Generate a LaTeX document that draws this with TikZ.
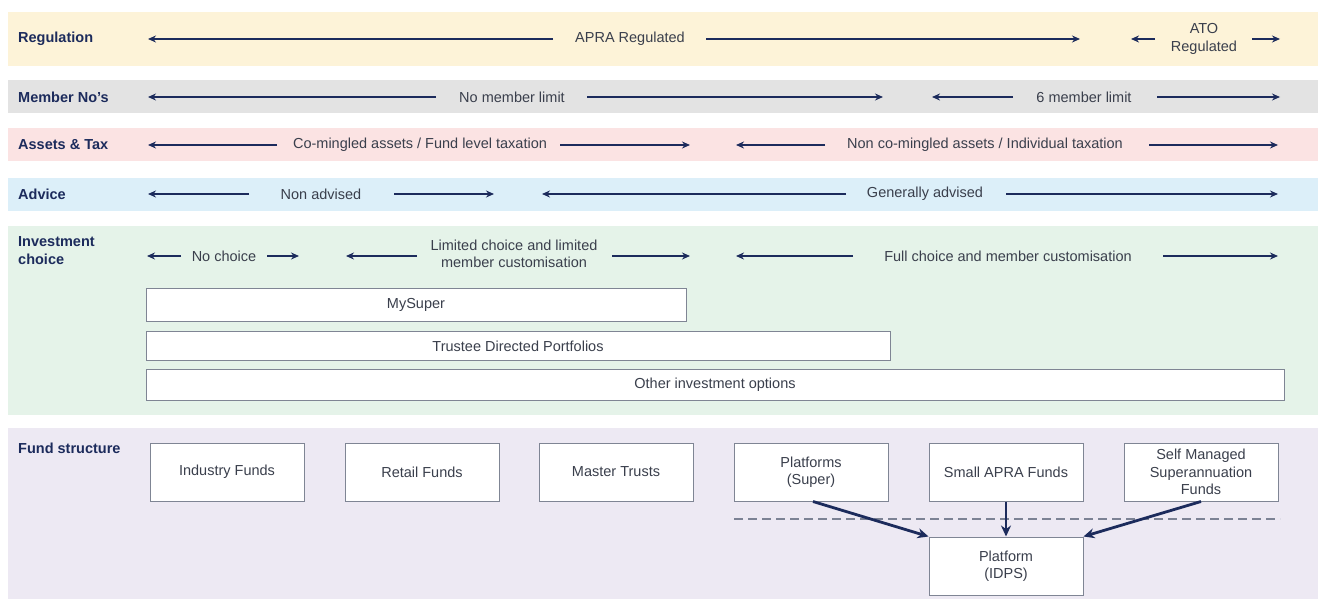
\documentclass[tikz,border=0pt]{standalone}
\usepackage{fontspec}
\setmainfont{Liberation Sans}
\usetikzlibrary{arrows.meta}
\definecolor{navy}{HTML}{1C2B5C}
\definecolor{txtc}{HTML}{3A3F4C}
\definecolor{boxc}{HTML}{7F8594}
\definecolor{regc}{HTML}{FDF3D8}
\definecolor{memc}{HTML}{E3E3E3}
\definecolor{assc}{HTML}{FBE3E3}
\definecolor{advc}{HTML}{DCEFF9}
\definecolor{invc}{HTML}{E5F3E9}
\definecolor{fundc}{HTML}{EDE9F3}
\definecolor{dashc}{HTML}{7C8294}
\begin{document}
\begin{tikzpicture}[x=1pt,y=-1pt,
  lab/.style={font=\fontsize{14.5}{18.5}\selectfont\bfseries, text=navy, anchor=west, align=left, inner sep=0pt},
  txt/.style={font=\fontsize{14.5}{17.5}\selectfont, text=txtc, align=center, inner sep=0pt},
  arr/.style={navy, line width=1.8pt, -{Stealth[length=8pt,width=7pt]}},
  farr/.style={navy, line width=2.8pt, -{Stealth[length=11pt,width=10pt]}},
  obox/.style={draw=boxc, fill=white, line width=1pt, font=\fontsize{14.5}{17.5}\selectfont, text=txtc, align=center, inner sep=0pt},
  fbox/.style={obox, minimum width=154, minimum height=58}
]
\useasboundingbox (0,0) rectangle (1324,599);
\fill[white] (0,0) rectangle (1324,599);
% bands
\fill[regc] (8,12) rectangle (1318,66);
\fill[memc] (8,80) rectangle (1318,113);
\fill[assc] (8,128) rectangle (1318,161);
\fill[advc] (8,178) rectangle (1318,211);
\fill[invc] (8,226) rectangle (1318,415);
\fill[fundc] (8,428) rectangle (1318,599);
% row labels
\node[lab] (lreg) at (18,39) {Regulation};
\node[lab] (lmem) at (18,97) {Member No's};
\node[lab] (lass) at (18,145) {Assets \& Tax};
\node[lab] (ladv) at (18,194) {Advice};
\node[lab, anchor=north west] (linv) at (18,236) {Investment\\choice};
\node[lab, anchor=north west] (lfund) at (18,443) {Fund structure};
% Regulation
\node[txt] (apra) at (630,39) {APRA Regulated};
\node[txt] (ato) at (1204,39) {ATO\\Regulated};
\coordinate (ra1) at (553,39); \coordinate (ra2) at (148,39);
\coordinate (ra3) at (706,39); \coordinate (ra4) at (1080,39);
\coordinate (ra5) at (1155,39); \coordinate (ra6) at (1131,39);
\coordinate (ra7) at (1252,39); \coordinate (ra8) at (1280,39);
\draw[arr] (ra1) -- (ra2); \draw[arr] (ra3) -- (ra4);
\draw[arr] (ra5) -- (ra6); \draw[arr] (ra7) -- (ra8);
% Member
\node[txt] (nml) at (512,97) {No member limit};
\node[txt] (sml) at (1084,97) {6 member limit};
\coordinate (ma1) at (436,97); \coordinate (ma2) at (148,97);
\coordinate (ma3) at (587,97); \coordinate (ma4) at (883,97);
\coordinate (ma5) at (1013,97); \coordinate (ma6) at (932,97);
\coordinate (ma7) at (1157,97); \coordinate (ma8) at (1280,97);
\draw[arr] (ma1) -- (ma2); \draw[arr] (ma3) -- (ma4);
\draw[arr] (ma5) -- (ma6); \draw[arr] (ma7) -- (ma8);
% Assets
\node[txt] (com) at (420,145) {Co-mingled assets / Fund level taxation};
\node[txt] (ncom) at (985,145) {Non co-mingled assets / Individual taxation};
\coordinate (aa1) at (277,145); \coordinate (aa2) at (148,145);
\coordinate (aa3) at (560,145); \coordinate (aa4) at (690,145);
\coordinate (aa5) at (825,145); \coordinate (aa6) at (736,145);
\coordinate (aa7) at (1149,145); \coordinate (aa8) at (1278,145);
\draw[arr] (aa1) -- (aa2); \draw[arr] (aa3) -- (aa4);
\draw[arr] (aa5) -- (aa6); \draw[arr] (aa7) -- (aa8);
% Advice
\node[txt] (nadv) at (321,194) {Non advised};
\node[txt] (gadv) at (925,194) {Generally advised};
\coordinate (da1) at (249,194); \coordinate (da2) at (148,194);
\coordinate (da3) at (394,194); \coordinate (da4) at (494,194);
\coordinate (da5) at (846,194); \coordinate (da6) at (542,194);
\coordinate (da7) at (1006,194); \coordinate (da8) at (1278,194);
\draw[arr] (da1) -- (da2); \draw[arr] (da3) -- (da4);
\draw[arr] (da5) -- (da6); \draw[arr] (da7) -- (da8);
% Investment choice
\node[txt] (noc) at (224,256) {No choice};
\node[txt] (lim) at (514,254) {Limited choice and limited\\member customisation};
\node[txt] (full) at (1008,256) {Full choice and member customisation};
\coordinate (ia1) at (181,256); \coordinate (ia2) at (147,256);
\coordinate (ia3) at (267,256); \coordinate (ia4) at (299,256);
\coordinate (ia5) at (417,256); \coordinate (ia6) at (346,256);
\coordinate (ia7) at (612,256); \coordinate (ia8) at (690,256);
\coordinate (ia9) at (853,256); \coordinate (ia10) at (736,256);
\coordinate (ia11) at (1163,256); \coordinate (ia12) at (1278,256);
\draw[arr] (ia1) -- (ia2); \draw[arr] (ia3) -- (ia4);
\draw[arr] (ia5) -- (ia6); \draw[arr] (ia7) -- (ia8);
\draw[arr] (ia9) -- (ia10); \draw[arr] (ia11) -- (ia12);
\node[obox, minimum width=540, minimum height=33] (mysuper) at (416,305) {MySuper};
\node[obox, minimum width=744, minimum height=29] (tdp) at (518,346) {Trustee Directed Portfolios};
\node[obox, minimum width=1138, minimum height=31] (oio) at (715,385) {Other investment options};
% Fund structure
\node[fbox] (ind) at (227,472) {Industry Funds};
\node[fbox] (ret) at (422,472) {Retail Funds};
\node[fbox] (mas) at (616,472) {Master Trusts};
\node[fbox] (plat) at (811,472) {Platforms\\(Super)};
\node[fbox] (small) at (1006,472) {Small APRA Funds};
\node[fbox] (smsf) at (1201,472) {Self Managed\\Superannuation\\Funds};
\node[fbox] (idps) at (1006,566) {Platform\\(IDPS)};
\coordinate (dl1) at (734,519); \coordinate (dl2) at (1280,519);
\draw[dashc, line width=2.4pt, dash pattern=on 9pt off 5pt] (dl1) -- (dl2);
\draw[farr] ([xshift=2pt]plat.south) -- (idps.north west);
\draw[farr] (small.south) -- (idps.north);
\draw[farr] (smsf.south) -- (idps.north east);
\end{tikzpicture}
\end{document}
